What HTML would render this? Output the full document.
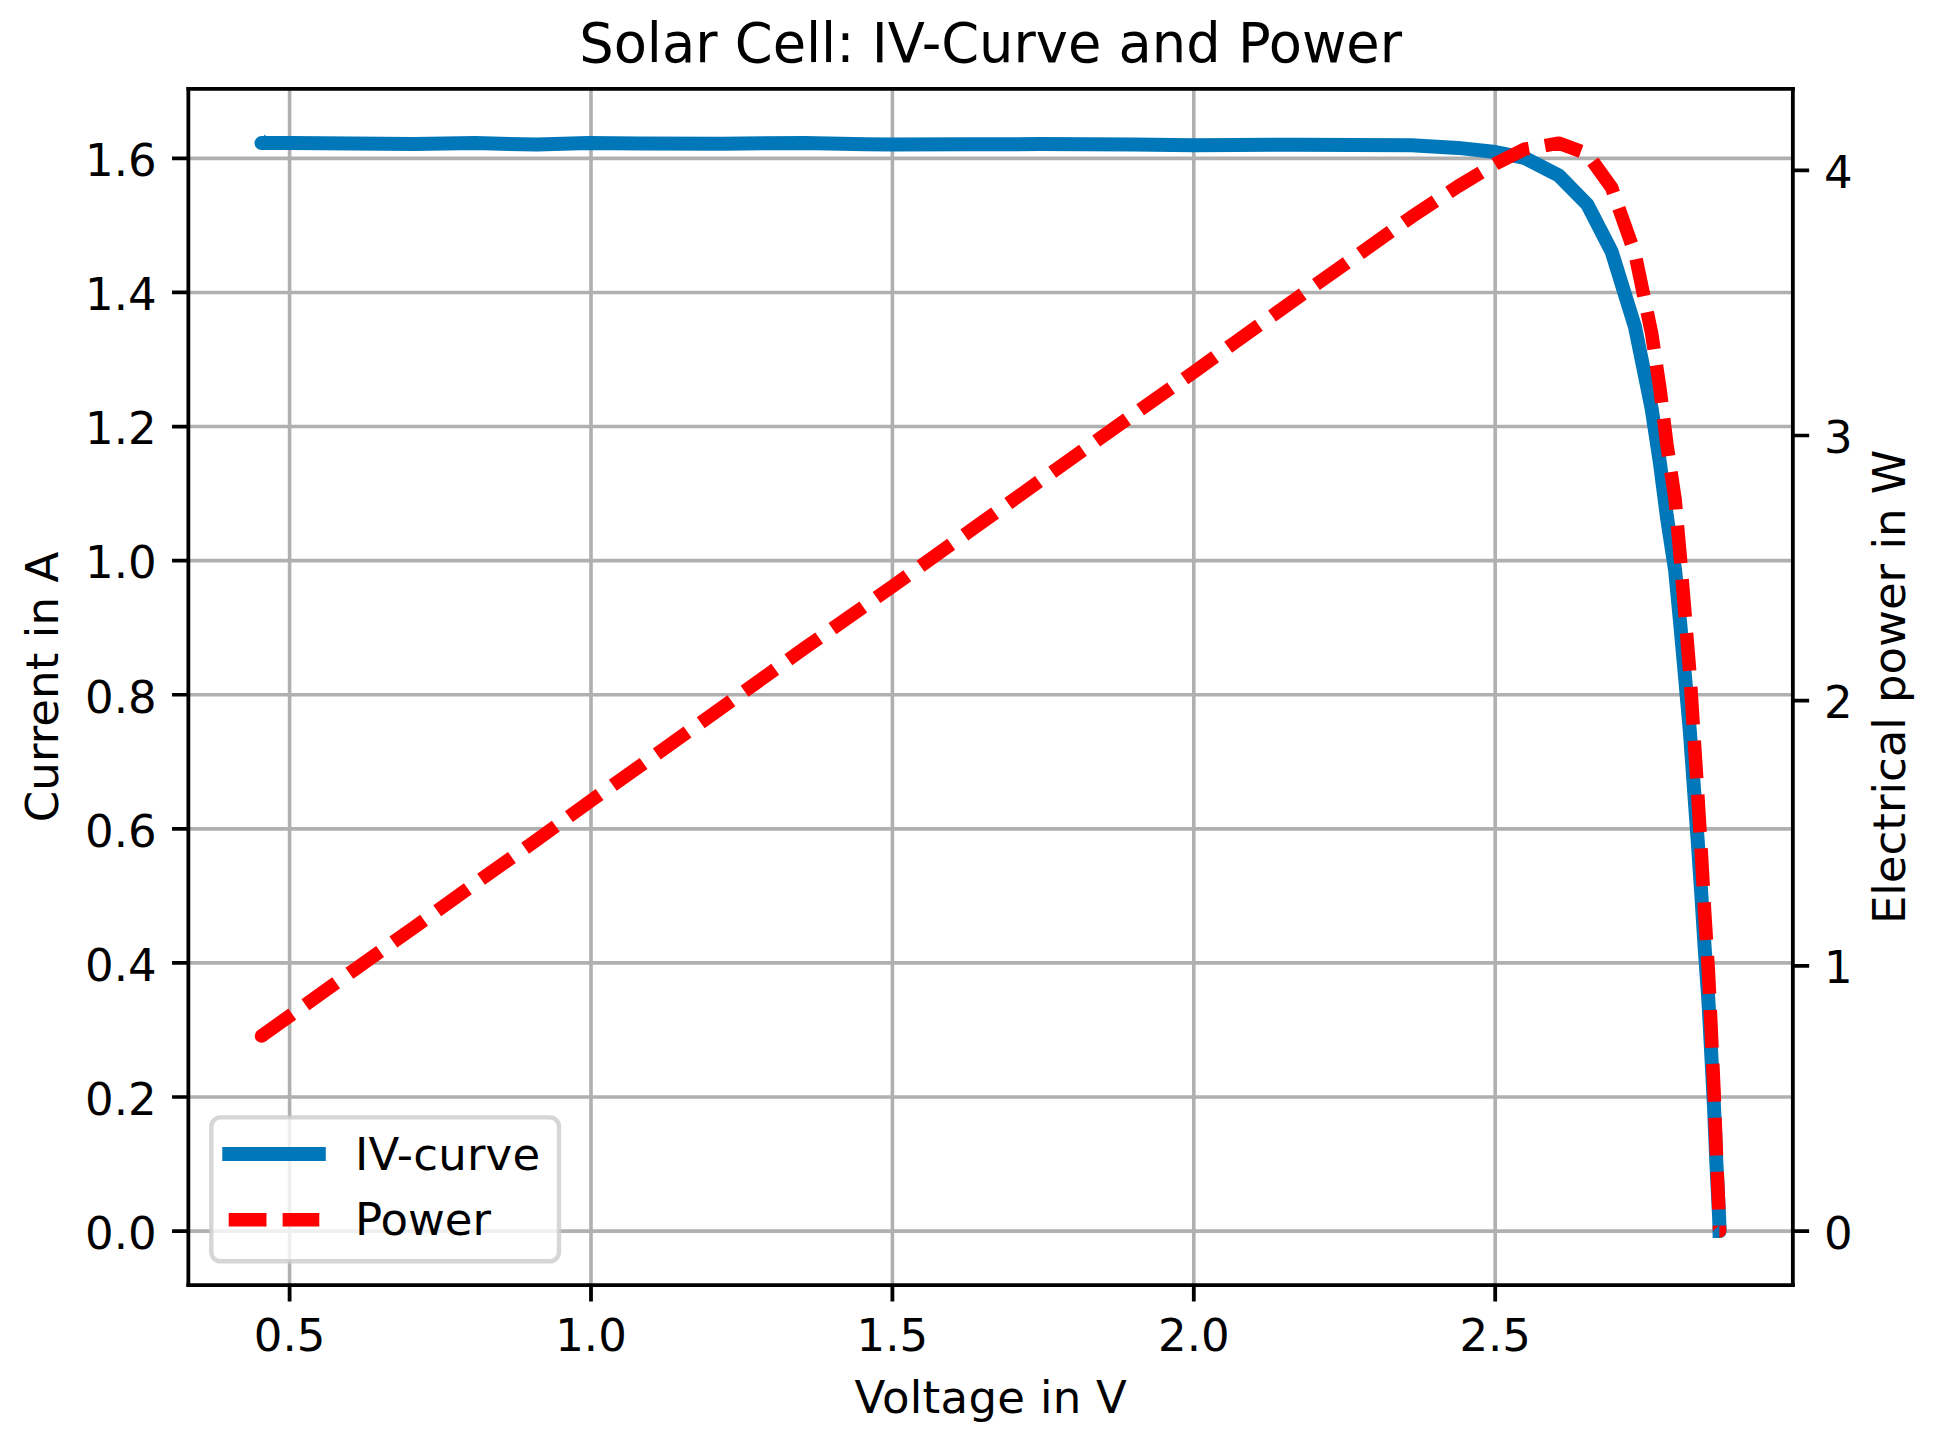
<!DOCTYPE html>
<html lang="en"><head><meta charset="utf-8"><title>Solar Cell: IV-Curve and Power</title>
<style>html,body{margin:0;padding:0;background:#fff}svg{display:block}text{font-family:"DejaVu Sans","Liberation Sans",sans-serif;fill:#000}</style></head><body>
<svg width="1951" height="1439" viewBox="0 0 1951 1439">
<rect width="1951" height="1439" fill="#fff"/>
<path d="M289.60 88.80 V1285.10 M591.00 88.80 V1285.10 M892.40 88.80 V1285.10 M1193.80 88.80 V1285.10 M1495.20 88.80 V1285.10" stroke="#b0b0b0" stroke-width="3.60" fill="none"/>
<path d="M188.35 1231.10 H1792.85 M188.35 1097.01 H1792.85 M188.35 962.92 H1792.85 M188.35 828.83 H1792.85 M188.35 694.74 H1792.85 M188.35 560.65 H1792.85 M188.35 426.56 H1792.85 M188.35 292.47 H1792.85 M188.35 158.38 H1792.85" stroke="#b0b0b0" stroke-width="3.60" fill="none"/>
<clipPath id="ax"><rect x="188.35" y="88.80" width="1604.50" height="1196.30"/></clipPath>
<g clip-path="url(#ax)" fill="none" stroke-linejoin="round">
<path d="M261.5 143.1 L291.0 142.9 L352.0 143.4 L414.0 144.0 L475.5 143.1 L537.0 144.6 L588.3 143.0 L640.0 143.6 L722.0 143.7 L804.0 143.0 L865.5 144.3 L892.0 144.5 L968.0 144.2 L1040.0 144.1 L1132.5 144.5 L1194.0 145.3 L1235.0 144.9 L1296.5 144.7 L1411.5 145.2 L1458.0 147.9 L1495.5 152.0 L1524.3 157.8 L1558.8 175.5 L1587.2 204.3 L1611.7 251.8 L1635.0 326.8 L1651.6 408.4 L1659.9 462.7 L1666.9 516.9 L1675.1 570.1 L1680.2 623.4 L1685.1 677.7 L1689.9 731.9 L1693.7 785.0 L1697.6 839.3 L1701.2 892.7 L1704.6 946.9 L1708.4 1000.7 L1711.3 1054.9 L1714.1 1109.1 L1716.4 1163.4 L1719.1 1216.6 L1719.6 1231.1 L1712.6 1231.1" stroke="#0077b8" stroke-width="14.00"/>
<path d="M262.5 137.2 L264.7 134.8 L267.2 137.2 Z" fill="#0077b8" stroke="none"/>
<circle cx="261.5" cy="143.1" r="7.00" fill="#0077b8" stroke="none"/>
<path d="M261.5 1036.0 L291.0 1014.9 L352.0 971.4 L414.0 927.4 L475.5 883.2 L537.0 839.8 L588.3 802.6 L640.0 766.0 L722.0 707.5 L804.0 648.6 L865.5 605.4 L892.0 586.7 L968.0 532.3 L1040.0 480.9 L1132.5 415.2 L1194.0 372.0 L1235.0 342.4 L1296.5 298.4 L1411.5 216.9 L1458.0 186.4 L1495.5 163.8 L1524.3 149.2 L1558.8 143.2 L1587.2 153.7 L1611.7 187.8 L1635.0 253.9 L1651.6 333.1 L1659.9 388.2 L1666.9 444.4 L1675.1 499.4 L1680.2 556.4 L1685.1 614.9 L1689.9 673.7 L1693.7 731.9 L1697.6 791.6 L1701.2 850.7 L1704.6 911.0 L1708.4 971.0 L1711.3 1031.9 L1714.1 1092.9 L1716.4 1154.3 L1719.1 1214.6 L1719.6 1231.1" stroke="#ff0000" stroke-width="13.50" stroke-dasharray="37.77 16.18"/>
<circle cx="261.5" cy="1036.0" r="6.75" fill="#ff0000" stroke="none"/>
<path d="M1719.30 1230.60 L1726.35 1230.60 A6.75 6.75 0 0 1 1719.30 1237.85 Z" fill="#ff0000" stroke="none"/>
<path d="M1712.35 1231.40 L1719.30 1225.55 L1719.30 1231.40 Z" fill="#0077b8" stroke="none"/>
</g>
<path d="M188.35 86.95 V1286.95 M1792.85 86.95 V1286.95" stroke="#000" stroke-width="3.80" fill="none"/>
<path d="M186.45 88.80 H1794.75 M186.45 1285.10 H1794.75" stroke="#000" stroke-width="3.70" fill="none"/>
<path d="M289.60 1285.10 v16.30 M591.00 1285.10 v16.30 M892.40 1285.10 v16.30 M1193.80 1285.10 v16.30 M1495.20 1285.10 v16.30" stroke="#000" stroke-width="3.80" fill="none"/>
<path d="M188.35 1231.10 h-16.30 M188.35 1097.01 h-16.30 M188.35 962.92 h-16.30 M188.35 828.83 h-16.30 M188.35 694.74 h-16.30 M188.35 560.65 h-16.30 M188.35 426.56 h-16.30 M188.35 292.47 h-16.30 M188.35 158.38 h-16.30 M1792.85 1231.10 h16.30 M1792.85 965.90 h16.30 M1792.85 700.70 h16.30 M1792.85 435.50 h16.30 M1792.85 170.30 h16.30" stroke="#000" stroke-width="3.70" fill="none"/>
<g font-size="45.00px">
<text x="289.60" y="1350.80" text-anchor="middle">0.5</text>
<text x="591.00" y="1350.80" text-anchor="middle">1.0</text>
<text x="892.40" y="1350.80" text-anchor="middle">1.5</text>
<text x="1193.80" y="1350.80" text-anchor="middle">2.0</text>
<text x="1495.20" y="1350.80" text-anchor="middle">2.5</text>
<text x="156.60" y="1248.90" text-anchor="end">0.0</text>
<text x="156.60" y="1114.81" text-anchor="end">0.2</text>
<text x="156.60" y="980.72" text-anchor="end">0.4</text>
<text x="156.60" y="846.63" text-anchor="end">0.6</text>
<text x="156.60" y="712.54" text-anchor="end">0.8</text>
<text x="156.60" y="578.45" text-anchor="end">1.0</text>
<text x="156.60" y="444.36" text-anchor="end">1.2</text>
<text x="156.60" y="310.27" text-anchor="end">1.4</text>
<text x="156.60" y="176.18" text-anchor="end">1.6</text>
<text x="1824.00" y="1248.50" text-anchor="start">0</text>
<text x="1824.00" y="983.30" text-anchor="start">1</text>
<text x="1824.00" y="718.10" text-anchor="start">2</text>
<text x="1824.00" y="452.90" text-anchor="start">3</text>
<text x="1824.00" y="187.70" text-anchor="start">4</text>
<text x="990.80" y="1412.90" text-anchor="middle" letter-spacing="0.3">Voltage in V</text>
<text transform="translate(57.60 686.95) rotate(-90)" text-anchor="middle" letter-spacing="0.1">Current in A</text>
<text transform="translate(1905.00 686.95) rotate(-90)" text-anchor="middle">Electrical power in W</text>
</g>
<text x="990.60" y="61.60" text-anchor="middle" font-size="54.27px">Solar Cell: IV-Curve and Power</text>
<rect x="211.30" y="1117.40" width="347.70" height="143.90" rx="9.2" ry="9.2" fill="#fff" fill-opacity="0.8" stroke="#ccc" stroke-opacity="0.8" stroke-width="4.4"/>
<path d="M222.3 1154.1 H325.8" stroke="#0077b8" stroke-width="14.00" fill="none"/>
<path d="M228.7 1219.7 H319.3" stroke="#ff0000" stroke-width="13.50" stroke-dasharray="37.77 16.18" fill="none"/>
<g font-size="45.00px"><text x="355.0" y="1169.5" letter-spacing="0.2">IV-curve</text><text x="355.0" y="1235.3">Power</text></g>
</svg></body></html>
